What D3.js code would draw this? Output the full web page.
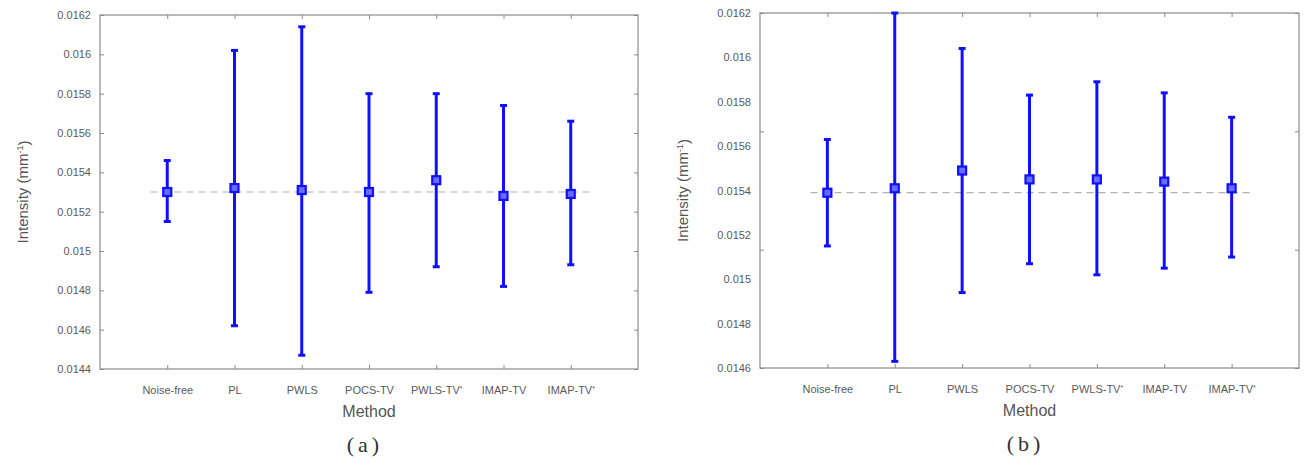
<!DOCTYPE html>
<html>
<head>
<meta charset="utf-8">
<script src="https://cdn.jsdelivr.net/npm/d3@7"></script>
<style>
  body { margin: 0; background: #fff; }
  svg { font-family: Arial, "Liberation Sans", sans-serif; }
</style>
</head>
<body>
<svg id="chart" width="1309" height="468"></svg>
<script>
// categories
const methods = ['Noise-free', 'PL', 'PWLS', 'POCS-TV', 'PWLS-TV*', 'IMAP-TV', 'IMAP-TV*'];

// panel (a)
const meanA  = [0.01530, 0.01532, 0.01531, 0.01530, 0.01536, 0.01528, 0.01529];
const upperA = [0.01546, 0.01602, 0.01614, 0.01580, 0.01580, 0.01574, 0.01566];
const lowerA = [0.01515, 0.01462, 0.01447, 0.01479, 0.01492, 0.01482, 0.01493];
const refA = 0.01530;
const yTicksA = [0.0144, 0.0146, 0.0148, 0.015, 0.0152, 0.0154, 0.0156, 0.0158, 0.016, 0.0162];

// panel (b)
const meanB  = [0.01539, 0.01541, 0.01549, 0.01545, 0.01545, 0.01544, 0.01541];
const upperB = [0.01563, 0.01620, 0.01604, 0.01583, 0.01589, 0.01584, 0.01573];
const lowerB = [0.01515, 0.01463, 0.01494, 0.01507, 0.01502, 0.01505, 0.01510];
const refB = 0.01539;
const yTicksB = [0.0146, 0.0148, 0.015, 0.0152, 0.0154, 0.0156, 0.0158, 0.016, 0.0162];
const yMarksB = [0.0146, 0.01513333, 0.01566667, 0.0162];

class errorChart {

    constructor(_config, _data) {
        this.config = {
            svg: _config.svg,
            left: _config.left,
            top: _config.top,
            width: _config.width,
            height: _config.height,
            yDomain: _config.yDomain,
            yTicks: _config.yTicks,
            yMarks: _config.yMarks || _config.yTicks,
            ref: _config.ref,
            tag: _config.tag
        };
        this.data = _data;
        this.initVis();
    }

    initVis() {
        let vis = this;
        let c = vis.config;

        vis.xScale = d3.scaleLinear().domain([0, 8]).range([0, c.width]);
        vis.yScale = d3.scaleLinear().domain(c.yDomain).range([c.height, 0]);

        vis.chart = c.svg.append('g')
            .attr('transform', `translate(${c.left},${c.top})`);

        // box
        vis.chart.append('rect')
            .attr('width', c.width)
            .attr('height', c.height)
            .attr('fill', 'none')
            .attr('stroke', '#8a8a8a')
            .attr('stroke-width', 1.2);

        const catTicks = d3.range(1, methods.length + 1);

        // bottom axis with labels
        vis.xAxisG = vis.chart.append('g')
            .attr('transform', `translate(0,${c.height})`)
            .call(d3.axisBottom(vis.xScale)
                .tickValues(catTicks)
                .tickSizeInner(-4)
                .tickSizeOuter(0)
                .tickPadding(17)
                .tickFormat(i => methods[i - 1]));

        // superscript star
        vis.xAxisG.selectAll('.tick text').each(function(d) {
            const label = methods[d - 1];
            if (label.endsWith('*')) {
                const t = d3.select(this).text(label.slice(0, -1));
                t.append('tspan')
                    .attr('font-size', 7)
                    .attr('dy', '-0.45em')
                    .text('*');
            }
        });

        // top ticks
        vis.chart.append('g')
            .call(d3.axisTop(vis.xScale)
                .tickValues(catTicks)
                .tickSizeInner(-4)
                .tickSizeOuter(0)
                .tickFormat(''));

        // left labels
        vis.chart.append('g')
            .call(d3.axisLeft(vis.yScale)
                .tickValues(c.yTicks)
                .tickSize(0)
                .tickPadding(9)
                .tickFormat(d => +d.toFixed(4)));

        // left and right tick marks
        vis.chart.append('g')
            .call(d3.axisLeft(vis.yScale)
                .tickValues(c.yMarks)
                .tickSizeInner(-4)
                .tickSizeOuter(0)
                .tickFormat(''));
        vis.chart.append('g')
            .attr('transform', `translate(${c.width},0)`)
            .call(d3.axisRight(vis.yScale)
                .tickValues(c.yMarks)
                .tickSizeInner(-4)
                .tickSizeOuter(0)
                .tickFormat(''));

        vis.chart.selectAll('.domain').remove();
        vis.chart.selectAll('.tick line').attr('stroke', '#8a8a8a');
        vis.chart.selectAll('.tick text')
            .attr('fill', '#5a5a5a')
            .attr('font-size', 11);

        // axis titles
        vis.chart.append('text')
            .attr('x', c.width / 2)
            .attr('y', c.height + 48)
            .attr('text-anchor', 'middle')
            .attr('font-size', 16)
            .attr('fill', '#555')
            .text('Method');

        const yt = vis.chart.append('text')
            .attr('transform', `translate(-72,${c.height / 2}) rotate(-90)`)
            .attr('text-anchor', 'middle')
            .attr('font-size', 15)
            .attr('fill', '#555')
            .text('Intensity (mm');
        yt.append('tspan').attr('font-size', 9).attr('dy', '-0.6em').text('-1');
        yt.append('tspan').attr('dy', '0.4em').text(')');

        vis.chart.append('text')
            .attr('x', c.width / 2 - 4)
            .attr('y', c.height + 83)
            .attr('text-anchor', 'middle')
            .attr('font-family', '"Liberation Serif", "DejaVu Serif", serif')
            .attr('font-size', 22)
            .attr('letter-spacing', 4)
            .attr('fill', '#333')
            .text(c.tag);

        vis.renderVis();
    }

    renderVis() {
        let vis = this;
        let c = vis.config;
        const blue = '#1010ff';

        // reference line
        vis.chart.append('line')
            .attr('x1', vis.xScale(0.75))
            .attr('x2', vis.xScale(7.28))
            .attr('y1', vis.yScale(c.ref))
            .attr('y2', vis.yScale(c.ref))
            .attr('stroke', '#b0b0b0')
            .attr('stroke-width', 1.2)
            .attr('stroke-dasharray', '7,5');

        const g = vis.chart.selectAll('.bar')
            .data(vis.data)
            .join('g')
            .attr('class', 'bar')
            .attr('transform', (d, i) => `translate(${vis.xScale(i + 1)},0)`);

        g.append('line')
            .attr('y1', d => vis.yScale(d.lo))
            .attr('y2', d => vis.yScale(d.hi))
            .attr('stroke', blue)
            .attr('stroke-width', 3);

        g.selectAll('.cap')
            .data(d => [d.lo, d.hi])
            .join('line')
            .attr('class', 'cap')
            .attr('x1', -3.5).attr('x2', 3.5)
            .attr('y1', v => vis.yScale(v))
            .attr('y2', v => vis.yScale(v))
            .attr('stroke', blue)
            .attr('stroke-width', 3);

        g.append('rect')
            .attr('x', -4).attr('width', 8)
            .attr('y', d => vis.yScale(d.mean) - 4)
            .attr('height', 8)
            .attr('fill', '#6a6aff')
            .attr('stroke', blue)
            .attr('stroke-width', 2.2);
    }
}

const svg = d3.select('#chart');

const rows = (m, u, l) => m.map((v, i) => ({ mean: v, hi: u[i], lo: l[i] }));

new errorChart({
    svg: svg, left: 100, top: 15, width: 538, height: 354,
    yDomain: [0.0144, 0.0162], yTicks: yTicksA, ref: refA, tag: '(a)'
}, rows(meanA, upperA, lowerA));

new errorChart({
    svg: svg, left: 760, top: 13, width: 539, height: 355,
    yDomain: [0.0146, 0.0162], yTicks: yTicksB, yMarks: yMarksB, ref: refB, tag: '(b)'
}, rows(meanB, upperB, lowerB));
</script>
</body>
</html>
